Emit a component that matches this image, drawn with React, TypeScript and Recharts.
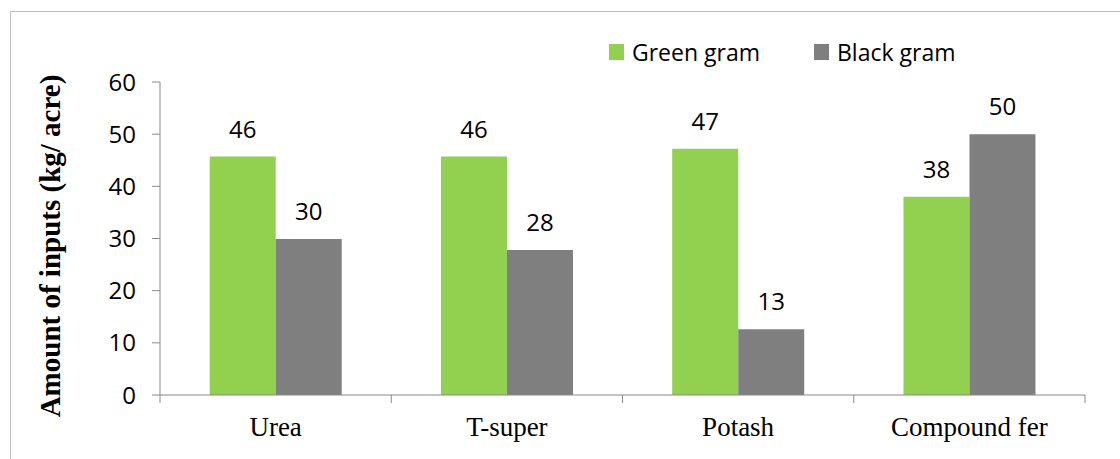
import { BarChart, Bar, XAxis, YAxis, LabelList, Label } from "recharts"

const categories = ["Urea", "T-super", "Potash", "Compound fer"]
const greenGram = [45.7, 45.7, 47.2, 38.0]
const blackGram = [29.9, 27.8, 12.6, 50.0]
const yTicks = [0, 10, 20, 30, 40, 50, 60]
const seriesNames = ["Green gram", "Black gram"]
const seriesColors = ["#92D050", "#7F7F7F"]

const data = categories.map((name, i) => ({
  name,
  green: greenGram[i],
  black: blackGram[i],
}))

const W = 1120
const H = 459
const M = { top: 82, right: 35, left: 0, bottom: 0 }
const X_AXIS_H = 64
const Y_AXIS_W = 160
const BAND = (W - M.left - Y_AXIS_W - M.right) / categories.length
const AXIS_COLOR = "#898989"
const NUM_FONT = "'Open Sans', 'Noto Sans', sans-serif"
const SERIF = "'Liberation Serif', 'DejaVu Serif', serif"

function CategoryTick(props: any) {
  const { x, y, payload, index } = props
  return (
    <g>
      <line x1={x - BAND / 2} x2={x - BAND / 2} y1={y - 8} y2={y} stroke={AXIS_COLOR} />
      {index === categories.length - 1 && (
        <line x1={x + BAND / 2} x2={x + BAND / 2} y1={y - 8} y2={y} stroke={AXIS_COLOR} />
      )}
      <text x={x} y={y + 33} textAnchor="middle" fontFamily={SERIF} fontSize={27} fill="#000">
        {payload.value}
      </text>
    </g>
  )
}

function YTitle() {
  const cx = 50
  const cy = 246
  return (
    <text
      x={cx}
      y={cy}
      transform={`rotate(-90 ${cx} ${cy})`}
      textAnchor="middle"
      dominantBaseline="central"
      fontFamily={SERIF}
      fontWeight="bold"
      fontSize={29}
      fill="#000"
    >
      Amount of inputs (kg/ acre)
    </text>
  )
}

// legend built from the same series lists as the bars
function ChartLegend() {
  return (
    <div
      style={{
        position: "absolute",
        left: 609,
        top: 36,
        display: "flex",
        fontFamily: NUM_FONT,
        fontSize: 23,
        lineHeight: "32px",
        color: "#000",
      }}
    >
      {seriesNames.map((n, i) => (
        <div key={n} style={{ display: "flex", alignItems: "center", marginRight: i === 0 ? 54 : 0 }}>
          <span style={{ width: 15, height: 16, background: seriesColors[i], display: "inline-block", marginRight: 8 }} />
          <span>{n}</span>
        </div>
      ))}
    </div>
  )
}

export default function App() {
  return (
    <div style={{ position: "absolute", left: 0, top: 0, width: W, height: H, background: "#fff", overflow: "hidden" }}>
      <div
        style={{
          position: "absolute",
          left: 10,
          top: 11,
          width: W + 20,
          height: H + 20,
          border: "1px solid #bfbfbf",
        }}
      />
      <BarChart
        width={W}
        height={H}
        data={data}
        margin={M}
        barCategoryGap="21.5%"
        barGap={0}
        style={{ position: "absolute", left: 0, top: 0 }}
      >
        <XAxis
          dataKey="name"
          stroke={AXIS_COLOR}
          tickLine={false}
          tick={<CategoryTick />}
          interval={0}
          height={X_AXIS_H}
        />
        <YAxis
          domain={[0, 60]}
          ticks={yTicks}
          width={Y_AXIS_W}
          stroke={AXIS_COLOR}
          tickSize={8}
          tickMargin={16}
          tick={{ fill: "#000", fontSize: 24, fontFamily: NUM_FONT }}
        >
          <Label content={<YTitle />} />
        </YAxis>
        <Bar dataKey="green" name={seriesNames[0]} fill={seriesColors[0]} isAnimationActive={false}>
          <LabelList
            dataKey="green"
            position="top"
            offset={19}
            formatter={(v: any) => Math.round(v)}
            style={{ fill: "#000", fontSize: 24, fontFamily: NUM_FONT }}
          />
        </Bar>
        <Bar dataKey="black" name={seriesNames[1]} fill={seriesColors[1]} isAnimationActive={false}>
          <LabelList
            dataKey="black"
            position="top"
            offset={19}
            formatter={(v: any) => Math.round(v)}
            style={{ fill: "#000", fontSize: 24, fontFamily: NUM_FONT }}
          />
        </Bar>
      </BarChart>
      <ChartLegend />
    </div>
  )
}
